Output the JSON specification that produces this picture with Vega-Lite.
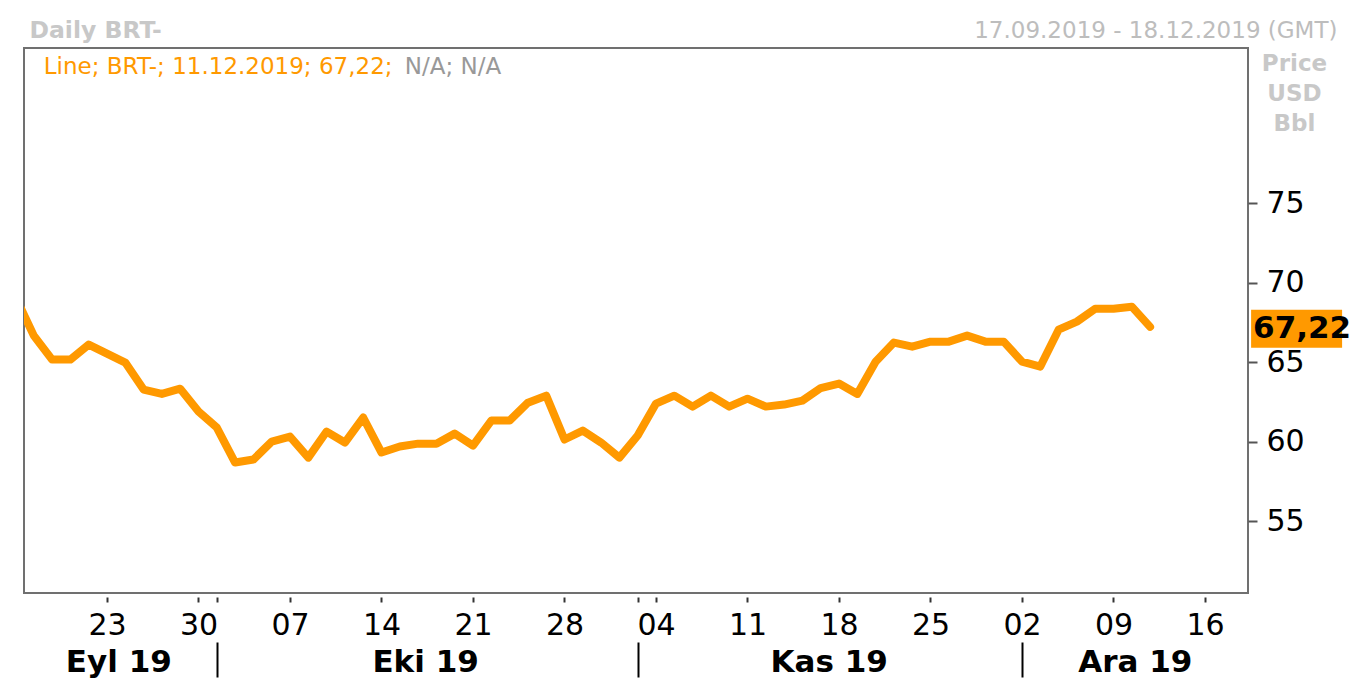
{
  "$schema": "https://vega.github.io/schema/vega-lite/v6.json",
  "width": 1224,
  "height": 545,
  "autosize": "none",
  "padding": {"left": 24, "top": 48, "right": 111, "bottom": 96},
  "background": "white",
  "config": {
    "font": "DejaVu Sans",
    "view": {"stroke": "#707070", "strokeWidth": 2},
    "locale": {"number": {"decimal": ",", "thousands": ".", "grouping": [3], "currency": ["", ""]}}
  },
  "data": {"values": [
    {"date": "2019-09-16", "price": 69.1},
    {"date": "2019-09-17", "price": 66.67},
    {"date": "2019-09-18", "price": 65.16},
    {"date": "2019-09-19", "price": 65.16},
    {"date": "2019-09-20", "price": 66.1},
    {"date": "2019-09-23", "price": 65.53},
    {"date": "2019-09-24", "price": 64.97},
    {"date": "2019-09-25", "price": 63.27},
    {"date": "2019-09-26", "price": 63.0},
    {"date": "2019-09-27", "price": 63.33},
    {"date": "2019-09-30", "price": 61.89},
    {"date": "2019-10-01", "price": 60.88},
    {"date": "2019-10-02", "price": 58.68},
    {"date": "2019-10-03", "price": 58.87},
    {"date": "2019-10-04", "price": 60.0},
    {"date": "2019-10-07", "price": 60.31},
    {"date": "2019-10-08", "price": 58.99},
    {"date": "2019-10-09", "price": 60.63},
    {"date": "2019-10-10", "price": 59.94},
    {"date": "2019-10-11", "price": 61.51},
    {"date": "2019-10-14", "price": 59.31},
    {"date": "2019-10-15", "price": 59.69},
    {"date": "2019-10-16", "price": 59.87},
    {"date": "2019-10-17", "price": 59.87},
    {"date": "2019-10-18", "price": 60.5},
    {"date": "2019-10-21", "price": 59.75},
    {"date": "2019-10-22", "price": 61.32},
    {"date": "2019-10-23", "price": 61.32},
    {"date": "2019-10-24", "price": 62.45},
    {"date": "2019-10-25", "price": 62.89},
    {"date": "2019-10-28", "price": 60.13},
    {"date": "2019-10-29", "price": 60.69},
    {"date": "2019-10-30", "price": 59.94},
    {"date": "2019-10-31", "price": 58.99},
    {"date": "2019-11-01", "price": 60.38},
    {"date": "2019-11-04", "price": 62.39},
    {"date": "2019-11-05", "price": 62.89},
    {"date": "2019-11-06", "price": 62.2},
    {"date": "2019-11-07", "price": 62.89},
    {"date": "2019-11-08", "price": 62.2},
    {"date": "2019-11-11", "price": 62.7},
    {"date": "2019-11-12", "price": 62.2},
    {"date": "2019-11-13", "price": 62.33},
    {"date": "2019-11-14", "price": 62.58},
    {"date": "2019-11-15", "price": 63.37},
    {"date": "2019-11-18", "price": 63.65},
    {"date": "2019-11-19", "price": 63.0},
    {"date": "2019-11-20", "price": 65.03},
    {"date": "2019-11-21", "price": 66.23},
    {"date": "2019-11-22", "price": 65.97},
    {"date": "2019-11-25", "price": 66.29},
    {"date": "2019-11-26", "price": 66.29},
    {"date": "2019-11-27", "price": 66.67},
    {"date": "2019-11-28", "price": 66.29},
    {"date": "2019-11-29", "price": 66.29},
    {"date": "2019-12-02", "price": 65.03},
    {"date": "2019-12-03", "price": 64.72},
    {"date": "2019-12-04", "price": 67.04},
    {"date": "2019-12-05", "price": 67.55},
    {"date": "2019-12-06", "price": 68.36},
    {"date": "2019-12-09", "price": 68.36},
    {"date": "2019-12-10", "price": 68.49},
    {"date": "2019-12-11", "price": 67.22}
  ]},
  "resolve": {"axis": {"x": "independent", "y": "independent"}},
  "layer": [
    {
      "mark": {"type": "line", "clip": true, "color": "#FF9900", "strokeWidth": 8, "strokeJoin": "round", "strokeCap": "round"},
      "encoding": {
        "x": {
          "field": "date", "type": "ordinal",
          "scale": {
            "type": "point", "padding": 0, "range": [-8.5, 1217.6],
            "domain": ["2019-09-16","2019-09-17","2019-09-18","2019-09-19","2019-09-20","2019-09-23","2019-09-24","2019-09-25","2019-09-26","2019-09-27","2019-09-30","2019-10-01","2019-10-02","2019-10-03","2019-10-04","2019-10-07","2019-10-08","2019-10-09","2019-10-10","2019-10-11","2019-10-14","2019-10-15","2019-10-16","2019-10-17","2019-10-18","2019-10-21","2019-10-22","2019-10-23","2019-10-24","2019-10-25","2019-10-28","2019-10-29","2019-10-30","2019-10-31","2019-11-01","2019-11-04","2019-11-05","2019-11-06","2019-11-07","2019-11-08","2019-11-11","2019-11-12","2019-11-13","2019-11-14","2019-11-15","2019-11-18","2019-11-19","2019-11-20","2019-11-21","2019-11-22","2019-11-25","2019-11-26","2019-11-27","2019-11-28","2019-11-29","2019-12-02","2019-12-03","2019-12-04","2019-12-05","2019-12-06","2019-12-09","2019-12-10","2019-12-11","2019-12-12","2019-12-13","2019-12-16","2019-12-17","2019-12-18"]
          },
          "axis": {
            "orient": "bottom", "title": null, "offset": 4, "domain": false, "grid": false,
            "values": ["2019-09-23","2019-09-30","2019-10-01","2019-10-07","2019-10-14","2019-10-21","2019-10-28","2019-11-01","2019-11-04","2019-11-11","2019-11-18","2019-11-25","2019-12-02","2019-12-09","2019-12-16"],
            "labelExpr": "indexof(['2019-10-01','2019-11-01'], datum.value) >= 0 ? '' : slice(datum.value, 8)",
            "tickSize": 5, "tickWidth": 2, "tickColor": "#333333",
            "labelFontSize": 30, "labelColor": "#000000", "labelPadding": 8, "labelAngle": 0,
            "labelOverlap": false, "labelFlush": false
          }
        },
        "y": {
          "field": "price", "type": "quantitative",
          "scale": {"domain": [50.47, 84.77], "nice": false, "zero": false},
          "axis": {
            "orient": "right", "values": [55, 60, 65, 70, 75], "domain": false, "grid": false,
            "tickSize": 9, "tickWidth": 2, "tickColor": "#555555",
            "labelFontSize": 30, "labelColor": "#000000", "labelPadding": 9, "labelAlign": "left", "labelBaseline": "middle",
            "labelOverlap": false, "labelFlush": false,
            "title": ["Price", "USD", "Bbl"], "titleFontSize": 23, "titleFontWeight": "bold", "titleColor": "#c8c8c8",
            "titleAngle": 0, "titleAlign": "center", "titleBaseline": "alphabetic", "titleLineHeight": 30,
            "titleX": 46, "titleY": 22
          }
        }
      }
    },
    {
      "transform": [{"filter": "datum.date == '2019-12-11'"}],
      "mark": {"type": "rect", "width": 91, "height": 38, "xOffset": 146.5, "yOffset": 2, "color": "#FF9900"},
      "encoding": {
        "x": {
          "field": "date", "type": "ordinal",
          "axis": {
            "orient": "bottom", "title": null, "offset": 49, "domain": false, "grid": false, "labels": false,
            "values": ["2019-10-01","2019-11-01","2019-12-02"],
            "tickSize": 35, "tickWidth": 2, "tickColor": "#000000"
          }
        },
        "y": {"field": "price", "type": "quantitative", "axis": null}
      }
    },
    {
      "transform": [{"filter": "datum.date == '2019-12-11'"}],
      "mark": {"type": "text", "align": "left", "baseline": "middle", "dx": 103, "dy": 2, "fontSize": 31, "fontWeight": "bold", "color": "#000000"},
      "encoding": {
        "x": {
          "field": "date", "type": "ordinal",
          "axis": {
            "orient": "bottom", "title": null, "offset": 50, "domain": false, "grid": false, "ticks": false, "tickSize": 0,
            "values": ["2019-09-24","2019-10-16","2019-11-15","2019-12-10"],
            "labelExpr": "slice(datum.value,5,7) == '09' ? 'Eyl 19' : slice(datum.value,5,7) == '10' ? 'Eki 19' : slice(datum.value,5,7) == '11' ? 'Kas 19' : 'Ara 19'",
            "labelOffset": {"condition": [
              {"test": "datum.value == '2019-09-24'", "value": -7},
              {"test": "datum.value == '2019-10-16'", "value": 7},
              {"test": "datum.value == '2019-11-15'", "value": 8}
            ], "value": 3},
            "labelFontSize": 31, "labelFontWeight": "bold", "labelColor": "#000000", "labelPadding": 4, "labelAngle": 0,
            "labelOverlap": false, "labelFlush": false
          }
        },
        "y": {"field": "price", "type": "quantitative", "axis": null},
        "text": {"field": "price", "type": "quantitative", "format": ".2f"}
      }
    },
    {
      "data": {"values": [{"label": "Line; BRT-; 11.12.2019; 67,22;"}]},
      "mark": {"type": "text", "align": "left", "baseline": "middle", "dx": 10, "fontSize": 23, "color": "#FF9900"},
      "encoding": {
        "x": {
          "datum": "2019-09-17", "type": "ordinal",
          "axis": {
            "orient": "top", "domain": false, "ticks": false, "labels": false, "grid": false,
            "title": "17.09.2019 - 18.12.2019 (GMT)", "titleFontSize": 23, "titleFontWeight": "normal", "titleColor": "#bdbdbd",
            "titleX": 1313, "titleY": -18, "titleAlign": "right", "titleBaseline": "middle", "titleAngle": 0
          }
        },
        "y": {"datum": 83.55, "type": "quantitative", "axis": null},
        "text": {"field": "label", "type": "nominal"}
      }
    },
    {
      "data": {"values": [{"label": "N/A; N/A"}]},
      "mark": {"type": "text", "align": "left", "baseline": "middle", "dx": 5, "fontSize": 23, "color": "#999999"},
      "encoding": {
        "x": {
          "datum": "2019-10-15", "type": "ordinal",
          "axis": {
            "orient": "top", "domain": false, "ticks": false, "labels": false, "grid": false,
            "title": "Daily BRT-", "titleFontSize": 23.5, "titleFontWeight": "bold", "titleColor": "#c8c8c8",
            "titleX": 5, "titleY": -18, "titleAlign": "left", "titleBaseline": "middle", "titleAngle": 0
          }
        },
        "y": {"datum": 83.55, "type": "quantitative", "axis": null},
        "text": {"field": "label", "type": "nominal"}
      }
    }
  ]
}
